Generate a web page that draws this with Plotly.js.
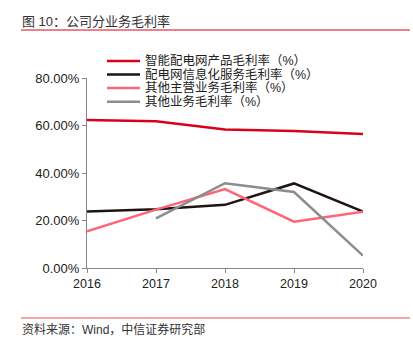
<!DOCTYPE html>
<html><head><meta charset="utf-8">
<script src="https://cdn.plot.ly/plotly-3.0.1.min.js"></script>
<style>html,body{margin:0;padding:0;background:#fff}#c{width:413px;height:343px}</style>
</head><body><div id="c"></div>
<script>
const years = ['2016','2017','2018','2019','2020'];
const smartGrid = [0.623, 0.618, 0.583, 0.577, 0.564];
const gridInfo = [0.238, 0.247, 0.266, 0.356, 0.237];
const otherMain = [0.155, 0.246, 0.332, 0.195, 0.237];
const otherBiz = [null, 0.209, 0.357, 0.320, 0.052];
const names = ['智能配电网产品毛利率（%）','配电网信息化服务毛利率（%）','其他主营业务毛利率（%）','其他业务毛利率（%）'];
const colors = ['#d9001b','#1e1414','#ff6478','#8c8c8c'];
const series = [smartGrid, gridInfo, otherMain, otherBiz];
const xIdx = years.map((_, i) => i);
const traces = series.map((s, i) => ({
  x: xIdx, y: s, name: names[i], type: 'scatter', mode: 'lines',
  line: {color: colors[i], width: 2.5}, connectgaps: false
}));
const cjk = '"Liberation Sans", "Noto Sans CJK SC", sans-serif';

// manual legend (compact row spacing)
const legX0 = 0.0725, legX1 = 0.192, legTX = 0.203;
const legY = [1.0895, 1.0184, 0.9474, 0.8753];
const legShapes = names.map((n, i) => ({type: 'line', xref: 'paper', yref: 'paper',
  x0: legX0, x1: legX1, y0: legY[i], y1: legY[i], line: {color: colors[i], width: 2.5}}));
const legAnn = names.map((n, i) => ({text: n, xref: 'paper', yref: 'paper', x: legTX, y: legY[i],
  xanchor: 'left', yanchor: 'middle', showarrow: false, font: {size: 12.5, color: '#222', family: cjk}}));

const layout = {
  width: 413, height: 343,
  margin: {l: 87, r: 50, t: 78, b: 75},
  paper_bgcolor: '#fff', plot_bgcolor: '#fff',
  font: {family: cjk, size: 12, color: '#222'},
  showlegend: false,
  xaxis: {tickmode: 'array', tickvals: xIdx, ticktext: years, range: [0, 4],
    showgrid: false, zeroline: false, showline: true, linecolor: '#888', linewidth: 1,
    ticks: 'outside', ticklen: 4, tickcolor: '#888', tickfont: {size: 12.5, color: '#222'}},
  yaxis: {range: [0, 0.8], tickvals: [0, 0.2, 0.4, 0.6, 0.8], tickformat: '.2%',
    showgrid: false, zeroline: false, showline: true, linecolor: '#888', linewidth: 1,
    ticks: 'outside', ticklen: 4, tickcolor: '#888', tickfont: {size: 13, color: '#222'}},
  shapes: [
    {type: 'line', xref: 'paper', yref: 'paper', x0: -0.239, x1: 1.170, y0: 1.2526, y1: 1.2526, line: {color: '#d9001b', width: 1}},
    {type: 'line', xref: 'paper', yref: 'paper', x0: -0.239, x1: 1.170, y0: -0.263, y1: -0.263, line: {color: '#e05050', width: 1}}
  ].concat(legShapes),
  annotations: [
    {text: '图 10：公司分业务毛利率', xref: 'paper', yref: 'paper', x: -0.243, y: 1.295, xanchor: 'left', yanchor: 'middle', showarrow: false, font: {size: 13, color: '#333', family: cjk}},
    {text: '资料来源：Wind，中信证券研究部', xref: 'paper', yref: 'paper', x: -0.243, y: -0.326, xanchor: 'left', yanchor: 'middle', showarrow: false, font: {size: 12, color: '#333', family: cjk}}
  ].concat(legAnn)
};
Plotly.newPlot('c', traces, layout, {staticPlot: true, displayModeBar: false});
</script></body></html>
